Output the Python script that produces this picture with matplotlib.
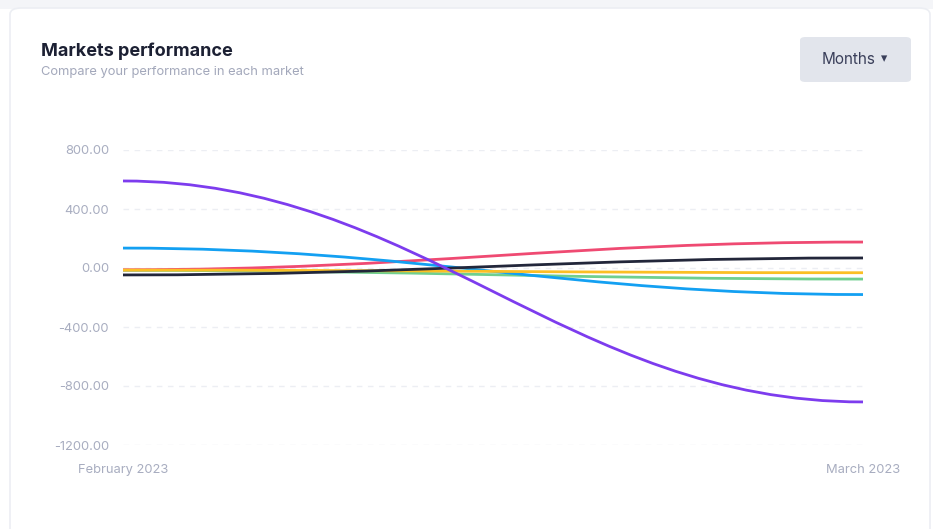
import matplotlib
matplotlib.use("Agg")
import matplotlib.pyplot as plt
from matplotlib.path import Path
from matplotlib.patches import PathPatch, FancyBboxPatch, Rectangle

plt.rcParams['font.family'] = ['Inter', 'DejaVu Sans']

dates = ["February 2023", "March 2023"]
series_names = ["Green", "Red", "Blue", "Yellow", "Black", "Purple"]
feb_values = [-16, -12, 135, -14, -47, 590]
mar_values = [-75, 176, -180, -32, 68, -908]
colors = ["#6fcf8f", "#ef4a72", "#13a0f2", "#fbbf24", "#22263a", "#7d3cee"]
yticks = [800, 400, 0, -400, -800, -1200]

W, H = 933, 529
fig = plt.figure(figsize=(W / 100, H / 100), dpi=100)
fig.patch.set_facecolor("white")

# page strip and card
strip = Rectangle((0, 1 - 9 / H), 1, 9 / H, transform=fig.transFigure,
                  facecolor="#f4f5f8", edgecolor="none", zorder=-12)
fig.patches.append(strip)
card = FancyBboxPatch((10 / W, -20 / H), 920 / W, 541 / H,
                      boxstyle="round,pad=0,rounding_size=0.012",
                      transform=fig.transFigure, facecolor="white",
                      edgecolor="#eceef3", linewidth=1.2, zorder=-10)
fig.patches.append(card)

fig.text(41 / W, 1 - 51 / H, "Markets performance", fontsize=13, fontweight="bold",
         color="#1c2033", va="center", ha="left")
fig.text(41 / W, 1 - 72.5 / H, "Compare your performance in each market", fontsize=9.3,
         color="#a3a8bb", va="center", ha="left")

btn = FancyBboxPatch((800 / W, 1 - 82 / H), 111 / W, 45 / H,
                     boxstyle="round,pad=0,rounding_size=0.006",
                     transform=fig.transFigure, facecolor="#e2e5ec",
                     edgecolor="none", zorder=-5)
fig.patches.append(btn)
fig.text(849 / W, 1 - 60 / H, "Months", fontsize=11, color="#3a3f5a",
         va="center", ha="center")
fig.text(884 / W, 1 - 59 / H, "▾", fontsize=9, color="#3a3f5a",
         va="center", ha="center", family=["DejaVu Sans"])

ax = fig.add_axes([123 / W, 1 - 445 / H, 740 / W, 295 / H])
ax.patch.set_alpha(0)
ax.set_xlim(0, 1)
ax.set_ylim(-1200, 800)
for s in ax.spines.values():
    s.set_visible(False)
ax.set_yticks(yticks)
ax.set_yticklabels([f"{v:.2f}" for v in yticks])
ax.tick_params(axis="y", length=0, pad=10, labelsize=9.3, labelcolor="#a8adc0")
ax.set_xticks([0, 1])
ax.set_xticklabels(dates)
ax.tick_params(axis="x", length=0, pad=13.5, labelsize=9.3, labelcolor="#a8adc0")
for v in yticks:
    ax.axhline(v, color="#eceef3", lw=1, ls=(0, (4, 4)), zorder=0)

x0, x1 = 0, 1
k = 0.4
for a, b, c in zip(feb_values, mar_values, colors):
    verts = [(x0, a), (x0 + k * (x1 - x0), a), (x1 - k * (x1 - x0), b), (x1, b)]
    codes = [Path.MOVETO, Path.CURVE4, Path.CURVE4, Path.CURVE4]
    ax.add_patch(PathPatch(Path(verts, codes), facecolor="none", edgecolor=c,
                           lw=2, transform=ax.transData, clip_on=False,
                           capstyle="butt"))

fig.savefig("out.png", dpi=100)
